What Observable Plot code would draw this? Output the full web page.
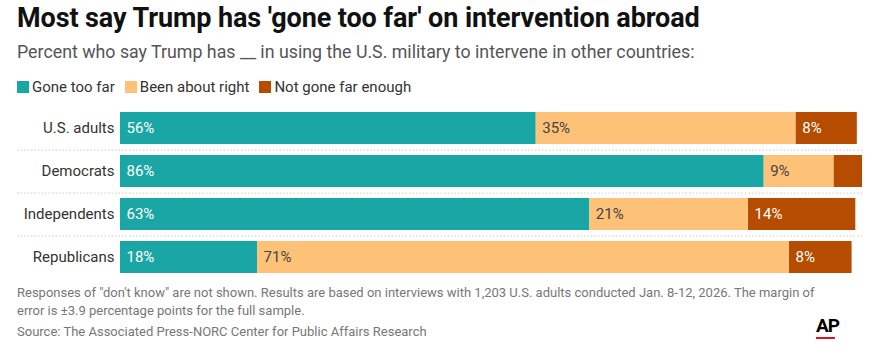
<!DOCTYPE html>
<html>
<head>
<meta charset="utf-8">
<script src="https://cdn.jsdelivr.net/npm/d3@7"></script>
<script src="https://cdn.jsdelivr.net/npm/@observablehq/plot@0.6"></script>
<style>
  html, body { margin: 0; padding: 0; background: #fff; }
  body { width: 876px; height: 348px; position: relative; overflow: hidden; font-family: Roboto, sans-serif; }
  #title { position: absolute; left: 17px; top: 2px; font-size: 27px; font-weight: bold; color: #111; white-space: nowrap; letter-spacing: -0.1px; }
  #subtitle { position: absolute; left: 17px; top: 41px; font-size: 17.8px; color: #555; white-space: nowrap; }
  #legend { position: absolute; left: 17px; top: 78px; font-size: 15px; color: #333; display: flex; gap: 10px; white-space: nowrap; }
  #legend span.item { display: flex; align-items: center; }
  #legend span.sw { width: 12px; height: 12px; display: inline-block; margin-right: 3px; }
  #chart { position: absolute; left: 0; top: 100px; }
  #note { position: absolute; left: 17px; top: 284px; width: 820px; font-size: 13px; line-height: 18px; color: #777; }
  #source { position: absolute; left: 17px; top: 324px; font-size: 13px; color: #777; white-space: nowrap; }
  #ap { position: absolute; left: 816px; top: 314px; font-size: 19px; font-weight: bold; color: #000; letter-spacing: -1px; }
  #apline { position: absolute; left: 816px; top: 337px; width: 19px; height: 2px; background: #e0141e; }
</style>
</head>
<body>
<div id="title">Most say Trump has 'gone too far' on intervention abroad</div>
<div id="subtitle">Percent who say Trump has __ in using the U.S. military to intervene in other countries:</div>
<div id="legend"></div>
<div id="chart"></div>
<div id="note">Responses of "don't know" are not shown. Results are based on interviews with 1,203 U.S. adults conducted Jan. 8-12, 2026. The margin of error is ±3.9 percentage points for the full sample.</div>
<div id="source">Source: The Associated Press-NORC Center for Public Affairs Research</div>
<div id="ap">AP</div>
<div id="apline"></div>
<script>
const groups = ["U.S. adults", "Democrats", "Independents", "Republicans"];
const responses = ["Gone too far", "Been about right", "Not gone far enough"];
// labels show rounded values
const goneTooFar = [55.8, 86.4, 63.0, 18.4];
const aboutRight = [34.9, 9.4, 21.3, 71.4];
const notFarEnough = [8.2, 3.8, 14.4, 8.4];
const colors = ["#1ba6a6", "#fdc277", "#b54c00"];

const series = [goneTooFar, aboutRight, notFarEnough];
const data = [];
groups.forEach((g, i) => {
  responses.forEach((r, j) => data.push({group: g, response: r, value: series[j][i]}));
});

// legend
const legend = document.getElementById("legend");
responses.forEach((r, j) => {
  const item = document.createElement("span");
  item.className = "item";
  item.innerHTML = `<span class="sw" style="background:${colors[j]}"></span>${r}`;
  legend.appendChild(item);
});

const label = (keep) => d => (keep.includes(d.response) && d.value >= 5) ? Math.round(d.value) + "%" : "";

const chart = Plot.plot({
  width: 876,
  height: 184,
  marginLeft: 17,
  marginRight: 13,
  marginTop: 0,
  marginBottom: 0,
  style: {fontFamily: "Roboto, sans-serif", background: "transparent"},
  x: {domain: [0, 100], range: [120, 865], axis: null},
  y: {domain: groups, padding: 0.26, axis: null},
  color: {domain: responses, range: colors},
  marks: [
    Plot.ruleY(groups.slice(0, -1), {y: d => d, dy: 21.6, stroke: "#cccccc", strokeDasharray: "1.5,2", strokeWidth: 1}),
    Plot.barX(data, Plot.stackX({x: "value", y: "group", z: "response", fill: "response"})),
    Plot.text(data, Plot.stackX1({x: "value", y: "group", z: "response", text: label(["Gone too far", "Not gone far enough"]), fill: "white", textAnchor: "start", dx: 6, fontSize: 15})),
    Plot.text(data, Plot.stackX1({x: "value", y: "group", z: "response", text: label(["Been about right"]), fill: "#444", textAnchor: "start", dx: 6, fontSize: 15})),
    Plot.text(groups, {x: () => 0, y: d => d, text: d => d, textAnchor: "end", dx: -6, fill: "#333", fontSize: 15})
  ]
});
document.getElementById("chart").appendChild(chart);
</script>
</body>
</html>
